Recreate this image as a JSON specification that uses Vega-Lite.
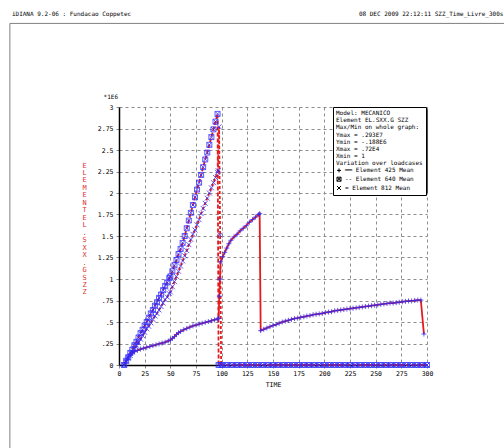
{
  "$schema": "https://vega.github.io/schema/vega-lite/v6.json",
  "width": 308,
  "height": 258,
  "autosize": "none",
  "padding": {"left": 119, "top": 107, "right": 77, "bottom": 83},
  "background": "white",
  "config": {"view": {"stroke": null}, "font": "DejaVu Sans Mono"},
  "data": {"values": [
    {"e":"425","t":5,"v":0},{"e":"425","t":7,"v":0.05},{"e":"425","t":9,"v":0.09},{"e":"425","t":11,"v":0.12},{"e":"425","t":13,"v":0.14},{"e":"425","t":15,"v":0.155},{"e":"425","t":18,"v":0.17},{"e":"425","t":21,"v":0.185},{"e":"425","t":24,"v":0.195},{"e":"425","t":27,"v":0.205},{"e":"425","t":30,"v":0.215},{"e":"425","t":33,"v":0.225},{"e":"425","t":36,"v":0.235},{"e":"425","t":39,"v":0.245},{"e":"425","t":42,"v":0.255},{"e":"425","t":45,"v":0.265},{"e":"425","t":48,"v":0.28},{"e":"425","t":50,"v":0.29},{"e":"425","t":52,"v":0.31},{"e":"425","t":54,"v":0.33},{"e":"425","t":56,"v":0.355},{"e":"425","t":58,"v":0.375},{"e":"425","t":60,"v":0.39},{"e":"425","t":63,"v":0.41},{"e":"425","t":66,"v":0.425},{"e":"425","t":69,"v":0.44},{"e":"425","t":72,"v":0.455},{"e":"425","t":75,"v":0.465},{"e":"425","t":78,"v":0.475},{"e":"425","t":81,"v":0.485},{"e":"425","t":84,"v":0.495},{"e":"425","t":87,"v":0.505},{"e":"425","t":90,"v":0.515},{"e":"425","t":93,"v":0.525},{"e":"425","t":96,"v":0.535},{"e":"425","t":97,"v":0.545},{"e":"425","t":97.7,"v":0.8},{"e":"425","t":98.3,"v":1.0},{"e":"425","t":99,"v":1.2},{"e":"425","t":101,"v":1.26},{"e":"425","t":103,"v":1.31},{"e":"425","t":105,"v":1.36},{"e":"425","t":107,"v":1.41},{"e":"425","t":109,"v":1.45},{"e":"425","t":112,"v":1.49},{"e":"425","t":115,"v":1.52},{"e":"425","t":118,"v":1.56},{"e":"425","t":121,"v":1.59},{"e":"425","t":124,"v":1.62},{"e":"425","t":127,"v":1.66},{"e":"425","t":130,"v":1.69},{"e":"425","t":133,"v":1.72},{"e":"425","t":136,"v":1.75},{"e":"425","t":137,"v":1.76},{"e":"425","t":138,"v":0.4},{"e":"425","t":141,"v":0.415},{"e":"425","t":144,"v":0.43},{"e":"425","t":147,"v":0.445},{"e":"425","t":150,"v":0.46},{"e":"425","t":153,"v":0.47},{"e":"425","t":156,"v":0.485},{"e":"425","t":159,"v":0.5},{"e":"425","t":162,"v":0.51},{"e":"425","t":165,"v":0.52},{"e":"425","t":168,"v":0.53},{"e":"425","t":171,"v":0.54},{"e":"425","t":174,"v":0.545},{"e":"425","t":177,"v":0.555},{"e":"425","t":180,"v":0.56},{"e":"425","t":183,"v":0.57},{"e":"425","t":186,"v":0.575},{"e":"425","t":189,"v":0.585},{"e":"425","t":192,"v":0.59},{"e":"425","t":195,"v":0.595},{"e":"425","t":198,"v":0.6},{"e":"425","t":201,"v":0.61},{"e":"425","t":204,"v":0.615},{"e":"425","t":207,"v":0.62},{"e":"425","t":210,"v":0.63},{"e":"425","t":213,"v":0.635},{"e":"425","t":216,"v":0.64},{"e":"425","t":219,"v":0.645},{"e":"425","t":222,"v":0.65},{"e":"425","t":225,"v":0.655},{"e":"425","t":228,"v":0.66},{"e":"425","t":231,"v":0.665},{"e":"425","t":234,"v":0.67},{"e":"425","t":237,"v":0.675},{"e":"425","t":240,"v":0.68},{"e":"425","t":243,"v":0.685},{"e":"425","t":246,"v":0.69},{"e":"425","t":249,"v":0.695},{"e":"425","t":252,"v":0.7},{"e":"425","t":255,"v":0.705},{"e":"425","t":258,"v":0.71},{"e":"425","t":261,"v":0.715},{"e":"425","t":264,"v":0.72},{"e":"425","t":267,"v":0.72},{"e":"425","t":270,"v":0.725},{"e":"425","t":273,"v":0.73},{"e":"425","t":276,"v":0.735},{"e":"425","t":279,"v":0.74},{"e":"425","t":282,"v":0.745},{"e":"425","t":285,"v":0.745},{"e":"425","t":288,"v":0.75},{"e":"425","t":291,"v":0.755},{"e":"425","t":294,"v":0.755},{"e":"425","t":297,"v":0.36},
    {"e":"640","t":5,"v":0},{"e":"640","t":7,"v":0.05},{"e":"640","t":9,"v":0.09},{"e":"640","t":11,"v":0.14},{"e":"640","t":13,"v":0.18},{"e":"640","t":15,"v":0.23},{"e":"640","t":17,"v":0.27},{"e":"640","t":19,"v":0.32},{"e":"640","t":21,"v":0.37},{"e":"640","t":23,"v":0.41},{"e":"640","t":25,"v":0.46},{"e":"640","t":27,"v":0.5},{"e":"640","t":29,"v":0.55},{"e":"640","t":31,"v":0.6},{"e":"640","t":33,"v":0.64},{"e":"640","t":35,"v":0.69},{"e":"640","t":37,"v":0.73},{"e":"640","t":39,"v":0.78},{"e":"640","t":41,"v":0.82},{"e":"640","t":43,"v":0.87},{"e":"640","t":45,"v":0.92},{"e":"640","t":47,"v":0.96},{"e":"640","t":49,"v":1.01},{"e":"640","t":50,"v":1.03},{"e":"640","t":52,"v":1.09},{"e":"640","t":54,"v":1.16},{"e":"640","t":56,"v":1.22},{"e":"640","t":58,"v":1.29},{"e":"640","t":60,"v":1.35},{"e":"640","t":62,"v":1.42},{"e":"640","t":64,"v":1.5},{"e":"640","t":66,"v":1.59},{"e":"640","t":68,"v":1.68},{"e":"640","t":70,"v":1.77},{"e":"640","t":72,"v":1.86},{"e":"640","t":74,"v":1.95},{"e":"640","t":76,"v":2.04},{"e":"640","t":78,"v":2.12},{"e":"640","t":80,"v":2.21},{"e":"640","t":82,"v":2.3},{"e":"640","t":84,"v":2.39},{"e":"640","t":86,"v":2.47},{"e":"640","t":88,"v":2.56},{"e":"640","t":90,"v":2.65},{"e":"640","t":92,"v":2.74},{"e":"640","t":94,"v":2.83},{"e":"640","t":96,"v":2.92},{"e":"640","t":97,"v":0},
    {"e":"640","t":100,"v":0},{"e":"640","t":105,"v":0},{"e":"640","t":110,"v":0},{"e":"640","t":115,"v":0},{"e":"640","t":120,"v":0},{"e":"640","t":125,"v":0},{"e":"640","t":130,"v":0},{"e":"640","t":135,"v":0},{"e":"640","t":140,"v":0},{"e":"640","t":145,"v":0},{"e":"640","t":150,"v":0},{"e":"640","t":155,"v":0},{"e":"640","t":160,"v":0},{"e":"640","t":165,"v":0},{"e":"640","t":170,"v":0},{"e":"640","t":175,"v":0},{"e":"640","t":180,"v":0},{"e":"640","t":185,"v":0},{"e":"640","t":190,"v":0},{"e":"640","t":195,"v":0},{"e":"640","t":200,"v":0},{"e":"640","t":205,"v":0},{"e":"640","t":210,"v":0},{"e":"640","t":215,"v":0},{"e":"640","t":220,"v":0},{"e":"640","t":225,"v":0},{"e":"640","t":230,"v":0},{"e":"640","t":235,"v":0},{"e":"640","t":240,"v":0},{"e":"640","t":245,"v":0},{"e":"640","t":250,"v":0},{"e":"640","t":255,"v":0},{"e":"640","t":260,"v":0},{"e":"640","t":265,"v":0},{"e":"640","t":270,"v":0},{"e":"640","t":275,"v":0},{"e":"640","t":280,"v":0},{"e":"640","t":285,"v":0},{"e":"640","t":290,"v":0},{"e":"640","t":295,"v":0},{"e":"640","t":300,"v":0},
    {"e":"812","t":5,"v":0},{"e":"812","t":7,"v":0.04},{"e":"812","t":9,"v":0.08},{"e":"812","t":11,"v":0.11},{"e":"812","t":13,"v":0.15},{"e":"812","t":15,"v":0.19},{"e":"812","t":17,"v":0.23},{"e":"812","t":19,"v":0.26},{"e":"812","t":21,"v":0.3},{"e":"812","t":23,"v":0.34},{"e":"812","t":25,"v":0.38},{"e":"812","t":27,"v":0.42},{"e":"812","t":29,"v":0.45},{"e":"812","t":31,"v":0.49},{"e":"812","t":33,"v":0.53},{"e":"812","t":35,"v":0.57},{"e":"812","t":37,"v":0.6},{"e":"812","t":39,"v":0.64},{"e":"812","t":41,"v":0.68},{"e":"812","t":43,"v":0.72},{"e":"812","t":45,"v":0.76},{"e":"812","t":47,"v":0.79},{"e":"812","t":49,"v":0.83},{"e":"812","t":50,"v":0.85},{"e":"812","t":52,"v":0.91},{"e":"812","t":54,"v":0.97},{"e":"812","t":56,"v":1.03},{"e":"812","t":58,"v":1.09},{"e":"812","t":60,"v":1.15},{"e":"812","t":62,"v":1.21},{"e":"812","t":64,"v":1.27},{"e":"812","t":66,"v":1.33},{"e":"812","t":68,"v":1.4},{"e":"812","t":70,"v":1.46},{"e":"812","t":72,"v":1.52},{"e":"812","t":74,"v":1.57},{"e":"812","t":76,"v":1.63},{"e":"812","t":78,"v":1.69},{"e":"812","t":80,"v":1.76},{"e":"812","t":82,"v":1.82},{"e":"812","t":84,"v":1.88},{"e":"812","t":86,"v":1.94},{"e":"812","t":88,"v":2.0},{"e":"812","t":90,"v":2.06},{"e":"812","t":92,"v":2.12},{"e":"812","t":94,"v":2.18},{"e":"812","t":96,"v":2.24},{"e":"812","t":96.5,"v":2.26},{"e":"812","t":97.5,"v":2.77},{"e":"812","t":98.5,"v":1.51},{"e":"812","t":99.5,"v":0},
    {"e":"812","t":102.5,"v":0},{"e":"812","t":107.5,"v":0},{"e":"812","t":112.5,"v":0},{"e":"812","t":117.5,"v":0},{"e":"812","t":122.5,"v":0},{"e":"812","t":127.5,"v":0},{"e":"812","t":132.5,"v":0},{"e":"812","t":137.5,"v":0},{"e":"812","t":142.5,"v":0},{"e":"812","t":147.5,"v":0},{"e":"812","t":152.5,"v":0},{"e":"812","t":157.5,"v":0},{"e":"812","t":162.5,"v":0},{"e":"812","t":167.5,"v":0},{"e":"812","t":172.5,"v":0},{"e":"812","t":177.5,"v":0},{"e":"812","t":182.5,"v":0},{"e":"812","t":187.5,"v":0},{"e":"812","t":192.5,"v":0},{"e":"812","t":197.5,"v":0},{"e":"812","t":202.5,"v":0},{"e":"812","t":207.5,"v":0},{"e":"812","t":212.5,"v":0},{"e":"812","t":217.5,"v":0},{"e":"812","t":222.5,"v":0},{"e":"812","t":227.5,"v":0},{"e":"812","t":232.5,"v":0},{"e":"812","t":237.5,"v":0},{"e":"812","t":242.5,"v":0},{"e":"812","t":247.5,"v":0},{"e":"812","t":252.5,"v":0},{"e":"812","t":257.5,"v":0},{"e":"812","t":262.5,"v":0},{"e":"812","t":267.5,"v":0},{"e":"812","t":272.5,"v":0},{"e":"812","t":277.5,"v":0},{"e":"812","t":282.5,"v":0},{"e":"812","t":287.5,"v":0},{"e":"812","t":292.5,"v":0},{"e":"812","t":297.5,"v":0},{"e":"812","t":300,"v":0}
  ]},
  "layer": [
    {
      "mark": {"type": "line", "color": "#e41a1c", "strokeWidth": 1.8},
      "encoding": {
        "x": {"field": "t", "type": "quantitative",
          "scale": {"domain": [0, 300], "nice": false},
          "axis": {"values": [0,25,50,75,100,125,150,175,200,225,250,275,300], "tickCount": 20, "format": "d",
            "grid": true, "gridColor": "#8c8c8c", "gridDash": [3,3], "gridWidth": 1,
            "domainColor": "#000", "domainWidth": 1.5, "tickColor": "#8c8c8c", "tickSize": 3,
            "labelPadding": 2, "labelFont": "DejaVu Sans Mono", "labelFontSize": 6.5, "labelColor": "#000",
            "labelFlush": false, "labelOverlap": false, "labelBound": false,
            "title": "TIME", "titleFont": "DejaVu Sans Mono", "titleFontSize": 6.5, "titleFontWeight": "normal",
            "titleColor": "#000", "titleY": 19, "titleBaseline": "middle"}},
        "y": {"field": "v", "type": "quantitative",
          "scale": {"domain": [0, 3], "nice": false},
          "axis": {"values": [0,0.25,0.5,0.75,1,1.25,1.5,1.75,2,2.25,2.5,2.75,3], "tickCount": 20,
            "labelExpr": "datum.value == 0 ? '0' : (datum.value < 1 ? replace(format(datum.value, '.2~f'), '0.', '.') : format(datum.value, '.2~f'))",
            "grid": true, "gridColor": "#8c8c8c", "gridDash": [3,3], "gridWidth": 1,
            "domainColor": "#000", "domainWidth": 1.5, "tickColor": "#8c8c8c", "tickSize": 3,
            "labelPadding": 3, "labelFont": "DejaVu Sans Mono", "labelFontSize": 6.5, "labelColor": "#000",
            "labelFlush": false, "labelOverlap": false, "labelBound": false,
            "title": ["E","L","E","M","E","N","T","\u00a0","E","L",".","S","X","X",".","G","\u00a0","S","Z","Z"],
            "titleAngle": 0, "titleAlign": "center", "titleBaseline": "middle",
            "titleX": -35, "titleY": 58, "titleLineHeight": 7.47,
            "titleColor": "#e03030", "titleFont": "DejaVu Sans Mono", "titleFontSize": 7, "titleFontWeight": "normal"}},
        "detail": {"field": "e", "type": "nominal"},
        "strokeDash": {"condition": [{"test": "datum.e === '640'", "value": [4,2]}, {"test": "datum.e === '812'", "value": [3,2]}], "value": [1,0]}
      }
    },
    {
      "mark": {"type": "point", "filled": false, "strokeWidth": 0.9, "size": 25, "color": "#2a2aff", "opacity": 0.85},
      "encoding": {
        "x": {"field": "t", "type": "quantitative"},
        "y": {"field": "v", "type": "quantitative"},
        "shape": {"field": "e", "type": "nominal",
          "scale": {"domain": ["425","640","812"],
            "range": ["M-1,0L1,0M0,-1L0,1", "M-1,-1L1,-1L1,1L-1,1ZM-1,-1L1,1M-1,1L1,-1", "M-1,-1L1,1M-1,1L1,-1"]},
          "legend": {"orient": "none", "legendX": 214, "legendY": 0, "direction": "vertical",
            "title": ["Model: MECANICO","Element EL.SXX.G SZZ","Max/Min on whole graph:","Ymax = .293E7","Ymin = -.188E6","Xmax = .72E4","Xmin = 1","Variation over loadcases"],
            "titleFont": "DejaVu Sans Mono", "titleFontSize": 6, "titleFontWeight": "normal", "titleLineHeight": 7.2,
            "titlePadding": 1, "titleColor": "#000", "titleAnchor": "start",
            "labelFont": "DejaVu Sans Mono", "labelFontSize": 6, "labelColor": "#000",
            "labelExpr": "datum.label == '425' ? '━━ Element 425 Mean' : (datum.label == '640' ? '-- Element 640 Mean' : '= Element 812 Mean')",
            "symbolSize": 16, "symbolStrokeColor": "#000", "symbolStrokeWidth": 1, "symbolFillColor": "transparent", "symbolOpacity": 1,
            "rowPadding": 0.8, "labelOffset": 3, "padding": 3, "strokeColor": "#000", "fillColor": "#fff"}}
      }
    },
    {
      "data": {"values": [{}]},
      "mark": {"type": "rect", "color": "#4d4d4d"},
      "encoding": {"x": {"datum": 210.6, "type": "quantitative"}, "x2": {"datum": 301}, "y": {"datum": 2.97, "type": "quantitative"}, "y2": {"datum": 2.0}}
    },
    {
      "data": {"values": [{}]},
      "mark": {"type": "rule", "color": "#808080", "strokeWidth": 1},
      "encoding": {"x": {"datum": -106.3, "type": "quantitative"}, "x2": {"datum": 376}, "y": {"datum": 3.972, "type": "quantitative"}}
    },
    {
      "data": {"values": [{}]},
      "mark": {"type": "rule", "color": "#808080", "strokeWidth": 1},
      "encoding": {"x": {"datum": -106.3, "type": "quantitative"}, "y": {"datum": 3.972, "type": "quantitative"}, "y2": {"datum": -0.97}}
    },
    {
      "data": {"values": [{}]},
      "mark": {"type": "text", "align": "left", "baseline": "middle", "fontSize": 6, "font": "DejaVu Sans Mono", "color": "#000"},
      "encoding": {"x": {"datum": -104.3, "type": "quantitative"}, "y": {"datum": 4.077, "type": "quantitative"}, "text": {"value": "iDIANA 9.2-06 : Fundacao Coppetec"}}
    },
    {
      "data": {"values": [{}]},
      "mark": {"type": "text", "align": "right", "baseline": "middle", "fontSize": 6, "font": "DejaVu Sans Mono", "color": "#000"},
      "encoding": {"x": {"datum": 374.4, "type": "quantitative"}, "y": {"datum": 4.077, "type": "quantitative"}, "text": {"value": "08 DEC 2009 22:12:11 SZZ_Time_Livre_300s"}}
    },
    {
      "data": {"values": [{}]},
      "mark": {"type": "text", "align": "center", "baseline": "middle", "fontSize": 6, "font": "DejaVu Sans Mono", "color": "#000"},
      "encoding": {"x": {"datum": -8, "type": "quantitative"}, "y": {"datum": 3.12, "type": "quantitative"}, "text": {"value": "*1E6"}}
    }
  ]
}
